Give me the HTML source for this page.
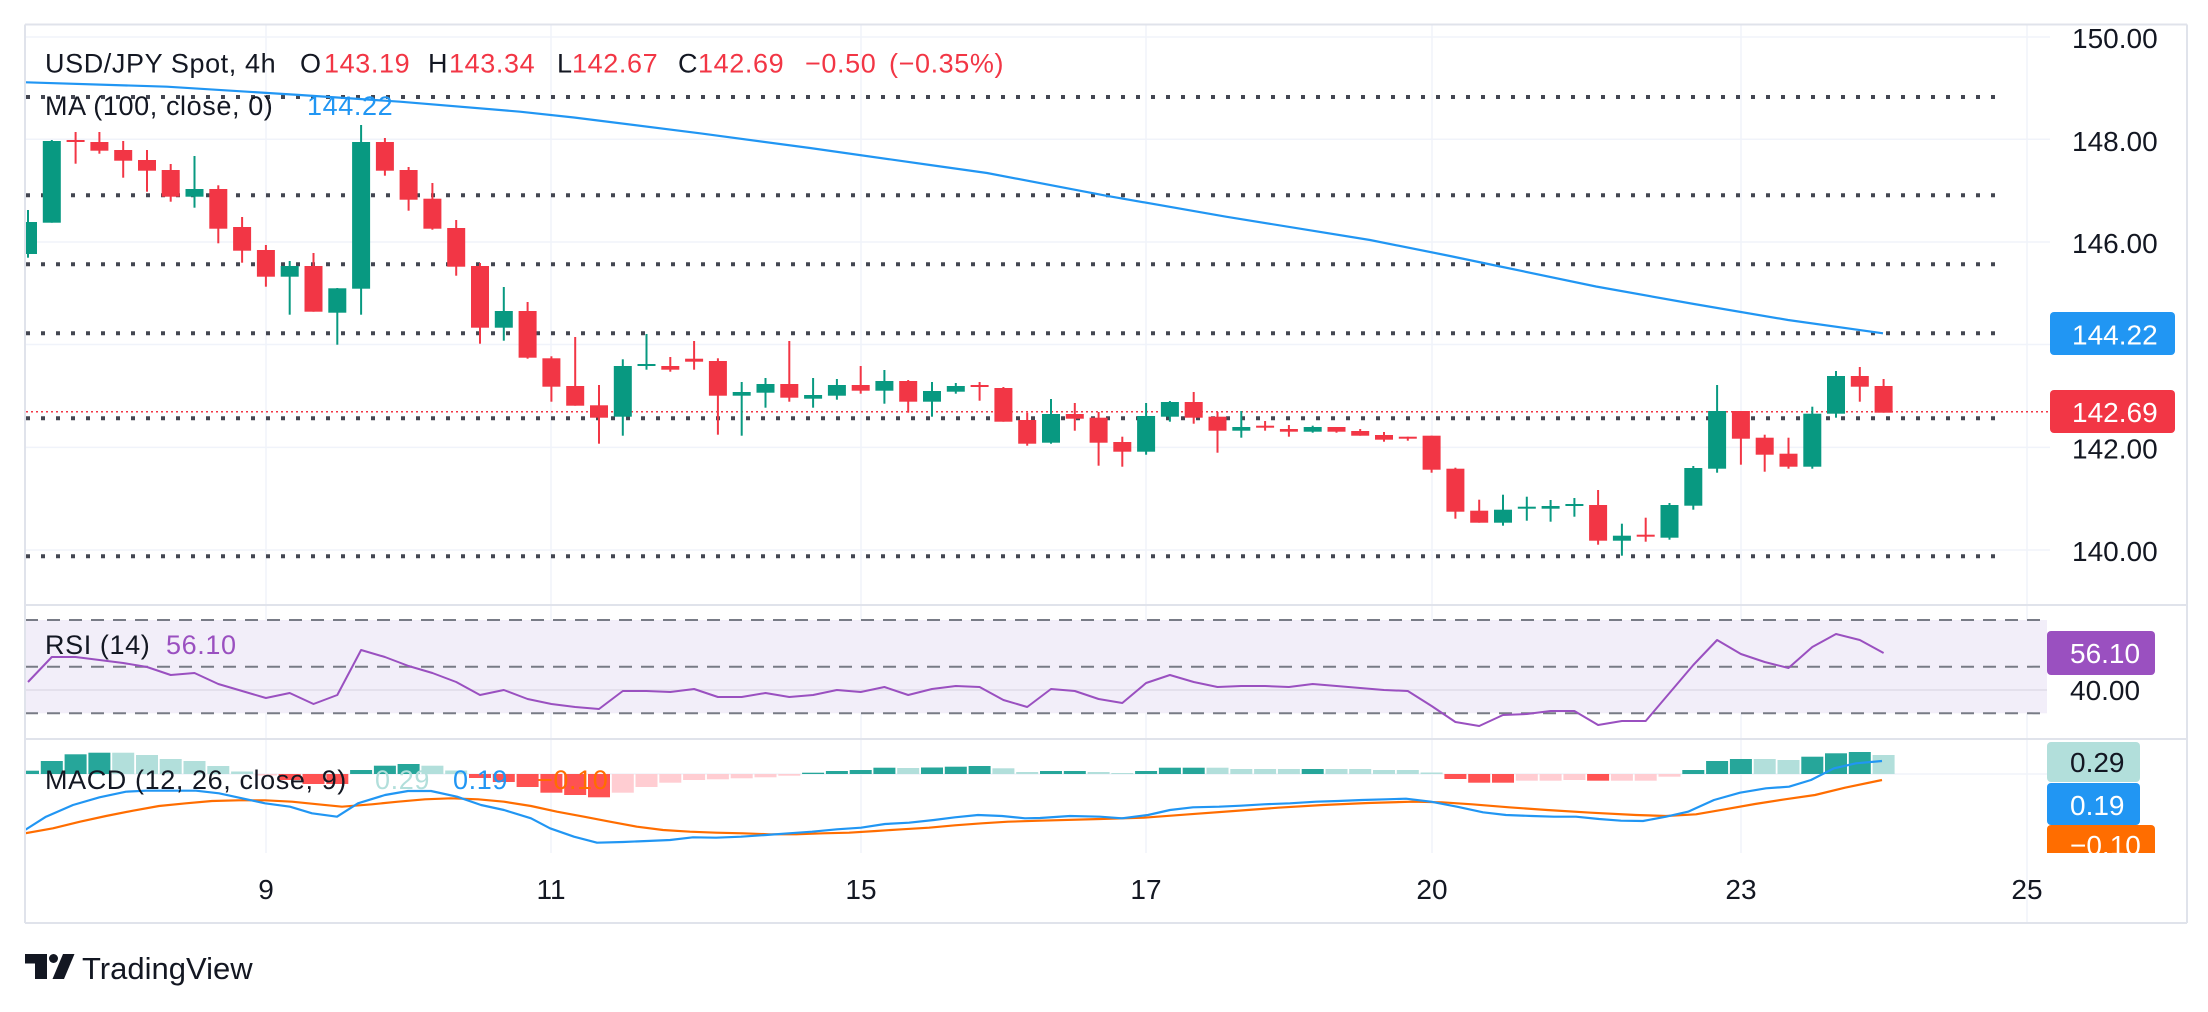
<!DOCTYPE html>
<html><head><meta charset="utf-8"><style>
html,body{margin:0;padding:0;background:#fff;}
svg{display:block;}
text{font-family:"Liberation Sans",sans-serif;}
</style></head><body>
<svg width="2208" height="1012" viewBox="0 0 2208 1012" xmlns="http://www.w3.org/2000/svg">
<defs>
<clipPath id="cp"><rect x="26" y="25" width="2022" height="580"/></clipPath>
<clipPath id="cr"><rect x="26" y="606" width="2022" height="133"/></clipPath>
<clipPath id="cm"><rect x="26" y="740" width="2022" height="113"/></clipPath>
<clipPath id="ca"><rect x="2040" y="740" width="146" height="113"/></clipPath>
</defs>
<rect width="2208" height="1012" fill="#fff"/>
<g stroke="#f0f3fa" stroke-width="1.5">
<line x1="266" y1="25" x2="266" y2="853"/><line x1="551" y1="25" x2="551" y2="853"/><line x1="861" y1="25" x2="861" y2="853"/><line x1="1146" y1="25" x2="1146" y2="853"/><line x1="1432" y1="25" x2="1432" y2="853"/><line x1="1741" y1="25" x2="1741" y2="853"/><line x1="2027" y1="25" x2="2027" y2="923"/>
<line x1="25" y1="37" x2="2050" y2="37"/><line x1="25" y1="139.3" x2="2050" y2="139.3"/><line x1="25" y1="242" x2="2050" y2="242"/><line x1="25" y1="344.5" x2="2050" y2="344.5"/><line x1="25" y1="447.4" x2="2050" y2="447.4"/><line x1="25" y1="550" x2="2050" y2="550"/>
<line x1="25" y1="774" x2="2047" y2="774"/>
</g>
<g stroke="#434651" stroke-width="4" stroke-dasharray="4 11">
<line x1="26" y1="97" x2="1998" y2="97"/><line x1="26" y1="195.3" x2="1998" y2="195.3"/><line x1="26" y1="264.3" x2="1998" y2="264.3"/><line x1="26" y1="333.3" x2="1998" y2="333.3"/><line x1="26" y1="418.3" x2="1998" y2="418.3"/><line x1="26" y1="556.3" x2="1998" y2="556.3"/>
</g>
<line x1="26" y1="411.8" x2="2048" y2="411.8" stroke="#f23645" stroke-width="1.5" stroke-dasharray="2 3"/>
<g clip-path="url(#cp)">
<polyline fill="none" stroke="#2196f3" stroke-width="2.2" points="25,82.3 167,86.7 300,95 400,101.7 520,111.7 574,117.5 700,133.3 810,148 930,165 987,173 1106,195.7 1226,216.7 1370,240 1450,256 1493,265 1596,286.5 1694,304 1788,320 1883,333.3"/>
<g fill="#089981">
<rect x="27" y="210" width="2" height="47.7"/><rect x="19" y="222" width="18" height="32"/>
<rect x="50.8" y="140" width="2" height="82.7"/><rect x="42.8" y="141" width="18" height="81.7"/>
<rect x="193.5" y="156" width="2" height="51.7"/><rect x="185.5" y="189" width="18" height="7.7"/>
<rect x="288.7" y="261" width="2" height="53.7"/><rect x="280.7" y="266" width="18" height="10.7"/>
<rect x="336.3" y="288" width="2" height="56.7"/><rect x="328.3" y="288.3" width="18" height="24.4"/>
<rect x="360.1" y="125" width="2" height="189.7"/><rect x="352.1" y="142" width="18" height="146.7"/>
<rect x="502.8" y="287" width="2" height="53.7"/><rect x="494.8" y="311" width="18" height="16.7"/>
<rect x="621.8" y="359.3" width="2" height="76.4"/><rect x="613.8" y="366" width="18" height="50.7"/>
<rect x="645.5" y="334" width="2" height="35.7"/><rect x="637.5" y="364" width="18" height="2"/>
<rect x="740.7" y="382" width="2" height="53.7"/><rect x="732.7" y="392" width="18" height="3.7"/>
<rect x="764.5" y="378" width="2" height="29.7"/><rect x="756.5" y="384" width="18" height="8.7"/>
<rect x="812.1" y="378" width="2" height="29.7"/><rect x="804.1" y="395" width="18" height="3.7"/>
<rect x="835.9" y="379" width="2" height="20.7"/><rect x="827.9" y="385" width="18" height="10.7"/>
<rect x="883.4" y="370" width="2" height="33.7"/><rect x="875.4" y="381" width="18" height="9.7"/>
<rect x="931" y="382" width="2" height="34.7"/><rect x="923" y="391" width="18" height="10.7"/>
<rect x="954.8" y="383" width="2" height="10.7"/><rect x="946.8" y="386" width="18" height="5.7"/>
<rect x="1050" y="399" width="2" height="44.7"/><rect x="1042" y="414" width="18" height="28.7"/>
<rect x="1145.1" y="403" width="2" height="51.7"/><rect x="1137.1" y="416" width="18" height="35.7"/>
<rect x="1168.9" y="401" width="2" height="20.7"/><rect x="1160.9" y="402" width="18" height="14.7"/>
<rect x="1240.3" y="411" width="2" height="26.7"/><rect x="1232.3" y="427" width="18" height="3.7"/>
<rect x="1311.7" y="425.7" width="2" height="7"/><rect x="1303.7" y="427" width="18" height="4.7"/>
<rect x="1502" y="494.7" width="2" height="31"/><rect x="1494" y="509.7" width="18" height="13"/>
<rect x="1525.8" y="496.7" width="2" height="24"/><rect x="1517.8" y="506.7" width="18" height="2"/>
<rect x="1549.6" y="500" width="2" height="21.7"/><rect x="1541.6" y="506" width="18" height="2.7"/>
<rect x="1573.4" y="498" width="2" height="18.7"/><rect x="1565.4" y="504" width="18" height="2"/>
<rect x="1620.9" y="523.7" width="2" height="32"/><rect x="1612.9" y="535.7" width="18" height="5"/>
<rect x="1668.5" y="503" width="2" height="36.7"/><rect x="1660.5" y="505" width="18" height="32.7"/>
<rect x="1692.3" y="466" width="2" height="43.7"/><rect x="1684.3" y="468" width="18" height="37.7"/>
<rect x="1716.1" y="385" width="2" height="87.7"/><rect x="1708.1" y="411" width="18" height="57.7"/>
<rect x="1811.3" y="406.7" width="2" height="62"/><rect x="1803.3" y="413.7" width="18" height="53"/>
<rect x="1835" y="371" width="2" height="46.7"/><rect x="1827" y="376" width="18" height="37.7"/>
</g>
<g fill="#f23645">
<rect x="74.6" y="132" width="2" height="31.7"/><rect x="66.6" y="140" width="18" height="2"/>
<rect x="98.4" y="132" width="2" height="21.7"/><rect x="90.4" y="142" width="18" height="8.7"/>
<rect x="122.2" y="141" width="2" height="36.7"/><rect x="114.2" y="150" width="18" height="10.7"/>
<rect x="146" y="150" width="2" height="41.7"/><rect x="138" y="160" width="18" height="10.7"/>
<rect x="169.7" y="164" width="2" height="37.7"/><rect x="161.7" y="170" width="18" height="26.7"/>
<rect x="217.3" y="185.3" width="2" height="58"/><rect x="209.3" y="189" width="18" height="39.7"/>
<rect x="241.1" y="217" width="2" height="45.7"/><rect x="233.1" y="227" width="18" height="23.7"/>
<rect x="264.9" y="245" width="2" height="41.7"/><rect x="256.9" y="250" width="18" height="26.7"/>
<rect x="312.5" y="253" width="2" height="58.7"/><rect x="304.5" y="266" width="18" height="45.7"/>
<rect x="383.9" y="138" width="2" height="37.7"/><rect x="375.9" y="142" width="18" height="28.7"/>
<rect x="407.6" y="167" width="2" height="43.7"/><rect x="399.6" y="170" width="18" height="29.7"/>
<rect x="431.4" y="183" width="2" height="46.7"/><rect x="423.4" y="198.7" width="18" height="30"/>
<rect x="455.2" y="220" width="2" height="55.7"/><rect x="447.2" y="228" width="18" height="38.7"/>
<rect x="479" y="263" width="2" height="80.7"/><rect x="471" y="266" width="18" height="61.7"/>
<rect x="526.6" y="302" width="2" height="56.7"/><rect x="518.6" y="311" width="18" height="46.7"/>
<rect x="550.4" y="356.3" width="2" height="45.4"/><rect x="542.4" y="358.3" width="18" height="28.4"/>
<rect x="574.2" y="337" width="2" height="68.7"/><rect x="566.2" y="386" width="18" height="19.7"/>
<rect x="598" y="385" width="2" height="58.7"/><rect x="590" y="405.3" width="18" height="12.4"/>
<rect x="669.3" y="357" width="2" height="14.7"/><rect x="661.3" y="366" width="18" height="3.7"/>
<rect x="693.1" y="341" width="2" height="28.7"/><rect x="685.1" y="358.7" width="18" height="3"/>
<rect x="716.9" y="358.3" width="2" height="76.4"/><rect x="708.9" y="361" width="18" height="34.7"/>
<rect x="788.3" y="341" width="2" height="60.7"/><rect x="780.3" y="384" width="18" height="13.7"/>
<rect x="859.7" y="366" width="2" height="27.7"/><rect x="851.7" y="385" width="18" height="5.7"/>
<rect x="907.2" y="380" width="2" height="32.7"/><rect x="899.2" y="381" width="18" height="20.7"/>
<rect x="978.6" y="382" width="2" height="18.7"/><rect x="970.6" y="385" width="18" height="2"/>
<rect x="1002.4" y="387" width="2" height="34.7"/><rect x="994.4" y="388" width="18" height="33.7"/>
<rect x="1026.2" y="412.7" width="2" height="33"/><rect x="1018.2" y="420" width="18" height="23.7"/>
<rect x="1073.8" y="403" width="2" height="27.7"/><rect x="1065.8" y="414" width="18" height="4.7"/>
<rect x="1097.6" y="412" width="2" height="53.7"/><rect x="1089.6" y="417.7" width="18" height="25"/>
<rect x="1121.3" y="436.7" width="2" height="30"/><rect x="1113.3" y="442" width="18" height="9.7"/>
<rect x="1192.7" y="392" width="2" height="31.7"/><rect x="1184.7" y="402" width="18" height="15.7"/>
<rect x="1216.5" y="412" width="2" height="40.7"/><rect x="1208.5" y="416.7" width="18" height="14"/>
<rect x="1264.1" y="421" width="2" height="9.7"/><rect x="1256.1" y="425.7" width="18" height="2"/>
<rect x="1287.9" y="425" width="2" height="11.7"/><rect x="1279.9" y="429" width="18" height="2.7"/>
<rect x="1335.5" y="427" width="2" height="5.7"/><rect x="1327.5" y="427" width="18" height="4.7"/>
<rect x="1359.2" y="429" width="2" height="6.7"/><rect x="1351.2" y="431" width="18" height="4.7"/>
<rect x="1383" y="432" width="2" height="9.7"/><rect x="1375" y="435" width="18" height="4.7"/>
<rect x="1406.8" y="436.7" width="2" height="4"/><rect x="1398.8" y="436.7" width="18" height="2"/>
<rect x="1430.6" y="435.7" width="2" height="37"/><rect x="1422.6" y="435.7" width="18" height="34"/>
<rect x="1454.4" y="467.7" width="2" height="51"/><rect x="1446.4" y="468.7" width="18" height="43"/>
<rect x="1478.2" y="499.7" width="2" height="23"/><rect x="1470.2" y="510.7" width="18" height="12"/>
<rect x="1597.1" y="490" width="2" height="54.7"/><rect x="1589.1" y="505" width="18" height="35.7"/>
<rect x="1644.7" y="517.7" width="2" height="24"/><rect x="1636.7" y="534.7" width="18" height="2"/>
<rect x="1739.9" y="411" width="2" height="53.7"/><rect x="1731.9" y="411" width="18" height="27.7"/>
<rect x="1763.7" y="434.7" width="2" height="37"/><rect x="1755.7" y="437.7" width="18" height="17"/>
<rect x="1787.5" y="437.7" width="2" height="31"/><rect x="1779.5" y="453.7" width="18" height="13"/>
<rect x="1858.8" y="367" width="2" height="34.7"/><rect x="1850.8" y="376" width="18" height="10.7"/>
<rect x="1882.6" y="379" width="2" height="33.7"/><rect x="1874.6" y="386" width="18" height="26.7"/>
</g>
</g>
<rect x="25" y="620" width="2022" height="93.3" fill="#f2eef9"/>
<line x1="25" y1="690" x2="2047" y2="690" stroke="#e4e0ec" stroke-width="2"/>
<g stroke="#787b86" stroke-width="2" stroke-dasharray="13 9">
<line x1="25" y1="620" x2="2047" y2="620"/><line x1="25" y1="666.7" x2="2047" y2="666.7"/><line x1="25" y1="713.3" x2="2047" y2="713.3"/>
</g>
<g clip-path="url(#cr)">
<polyline fill="none" stroke="#9a50c0" stroke-width="2" stroke-linejoin="round" points="28,682 51.8,657 75.6,657 99.4,660 123.2,663 147,667 170.7,675 194.5,673 218.3,684 242.1,691 265.9,698 289.7,693 313.5,704 337.3,695 361.1,650 384.9,657 408.6,666 432.4,673 456.2,682 480,695 503.8,690 527.6,699 551.4,704 575.2,707 599,709 622.8,691 646.5,691 670.3,692 694.1,689 717.9,697 741.7,697 765.5,693 789.3,697 813.1,695 836.9,690 860.7,692 884.4,687 908.2,695 932,689 955.8,686 979.6,687 1003.4,700 1027.2,707 1051,689 1074.8,691 1098.6,699 1122.3,703 1146.1,683 1169.9,675 1193.7,682 1217.5,687 1241.3,686 1265.1,686 1288.9,687 1312.7,684 1336.5,686 1360.2,688 1384,690 1407.8,691 1431.6,706 1455.4,722 1479.2,726 1503,715 1526.8,714 1550.6,711 1574.4,711 1598.1,725 1621.9,721 1645.7,721 1669.5,693 1693.3,665 1717.1,640 1740.9,654 1764.7,662 1788.5,668 1812.3,647 1836,634 1859.8,640 1883.6,653"/>
</g>
<g clip-path="url(#cm)">
<g fill="#26a69a">
<rect x="17" y="770.7" width="22" height="3.3"/><rect x="40.8" y="761" width="22" height="13"/><rect x="64.6" y="754.3" width="22" height="19.7"/><rect x="88.4" y="752.7" width="22" height="21.3"/>
<rect x="350.1" y="770" width="22" height="4"/><rect x="373.9" y="765.7" width="22" height="8.3"/><rect x="397.6" y="764" width="22" height="10"/>
<rect x="802.1" y="772.7" width="22" height="1.3"/><rect x="825.9" y="771" width="22" height="3"/><rect x="849.7" y="770" width="22" height="4"/><rect x="873.4" y="767.7" width="22" height="6.3"/>
<rect x="921" y="767.5" width="22" height="6.5"/><rect x="944.8" y="766.7" width="22" height="7.3"/><rect x="968.6" y="766" width="22" height="8"/>
<rect x="1040" y="771" width="22" height="3"/><rect x="1063.8" y="771" width="22" height="3"/><rect x="1135.1" y="771" width="22" height="3"/><rect x="1158.9" y="767.7" width="22" height="6.3"/><rect x="1182.7" y="767.7" width="22" height="6.3"/>
<rect x="1301.7" y="769" width="22" height="5"/>
<rect x="1682.3" y="770" width="22" height="4"/><rect x="1706.1" y="761" width="22" height="13"/><rect x="1729.9" y="759" width="22" height="15"/>
<rect x="1801.3" y="756.7" width="22" height="17.3"/><rect x="1825" y="753.3" width="22" height="20.7"/><rect x="1848.8" y="752" width="22" height="22"/>
</g>
<g fill="#b2dfdb">
<rect x="112.2" y="752.7" width="22" height="21.3"/><rect x="136" y="755" width="22" height="19"/><rect x="159.7" y="759" width="22" height="15"/><rect x="183.5" y="761" width="22" height="13"/><rect x="207.3" y="766" width="22" height="8"/><rect x="231.1" y="771.5" width="22" height="2.5"/>
<rect x="421.4" y="765.7" width="22" height="8.3"/><rect x="445.2" y="770.5" width="22" height="3.5"/>
<rect x="897.2" y="768" width="22" height="6"/><rect x="992.4" y="768.3" width="22" height="5.7"/><rect x="1016.2" y="772" width="22" height="2"/>
<rect x="1087.6" y="772" width="22" height="2"/><rect x="1111.3" y="773" width="22" height="1"/>
<rect x="1206.5" y="767.7" width="22" height="6.3"/><rect x="1230.3" y="769" width="22" height="5"/><rect x="1254.1" y="769" width="22" height="5"/><rect x="1277.9" y="769" width="22" height="5"/>
<rect x="1325.5" y="769" width="22" height="5"/><rect x="1349.2" y="769" width="22" height="5"/><rect x="1373" y="770" width="22" height="4"/><rect x="1396.8" y="770" width="22" height="4"/><rect x="1420.6" y="772.5" width="22" height="1.5"/>
<rect x="1753.7" y="759" width="22" height="15"/><rect x="1777.5" y="760" width="22" height="14"/><rect x="1872.6" y="755" width="22" height="19"/>
</g>
<g fill="#ff5252">
<rect x="278.7" y="774" width="22" height="6"/><rect x="302.5" y="774" width="22" height="10"/><rect x="326.3" y="774" width="22" height="10"/>
<rect x="469" y="774" width="22" height="4"/><rect x="492.8" y="774" width="22" height="8"/><rect x="516.6" y="774" width="22" height="13"/><rect x="540.4" y="774" width="22" height="18.7"/><rect x="564.2" y="774" width="22" height="21"/><rect x="588" y="774" width="22" height="23.3"/>
<rect x="1444.4" y="774" width="22" height="5"/><rect x="1468.2" y="774" width="22" height="8.7"/><rect x="1492" y="774" width="22" height="8.7"/><rect x="1587.1" y="774" width="22" height="6.7"/>
</g>
<g fill="#ffcdd2">
<rect x="254.9" y="774" width="22" height="1.5"/>
<rect x="611.8" y="774" width="22" height="18.7"/><rect x="635.5" y="774" width="22" height="13"/><rect x="659.3" y="774" width="22" height="8.7"/><rect x="683.1" y="774" width="22" height="6"/><rect x="706.9" y="774" width="22" height="5.3"/><rect x="730.7" y="774" width="22" height="4.3"/><rect x="754.5" y="774" width="22" height="3.3"/><rect x="778.3" y="774" width="22" height="1.7"/>
<rect x="1515.8" y="774" width="22" height="6.7"/><rect x="1539.6" y="774" width="22" height="6.7"/><rect x="1563.4" y="774" width="22" height="6"/><rect x="1610.9" y="774" width="22" height="6.7"/><rect x="1634.7" y="774" width="22" height="6.7"/><rect x="1658.5" y="774" width="22" height="2.7"/>
</g>
<polyline fill="none" stroke="#ff6d00" stroke-width="2.2" stroke-linejoin="round" points="25,833.3 53,828.3 80,821.7 106,816 133,810.7 159,806 186,803.3 212,801 239,800.3 265,800.3 292,801.7 318,804.3 342,806.7 372,804.3 398,801.7 425,799.3 451,798.3 478,799.3 504,801.7 531,806 557,811.7 584,816.7 610,821.7 637,826.7 663,830 690,831.7 716,832.7 743,833.3 769,834.3 796,834.3 823,833.3 849,832.7 876,831 902,829.3 929,827.7 955,825.3 982,823.3 1008,821.7 1040,820.7 1100,819 1144,817.7 1189,814.3 1234,811 1278,807.7 1323,805 1368,803 1413,801.7 1442,802.3 1472,804.3 1509,807.3 1547,810 1591,812.7 1636,815 1666,816 1696,814.3 1725,809.3 1755,804 1785,799.3 1815,795 1845,787.7 1882,780"/>
<polyline fill="none" stroke="#2196f3" stroke-width="2.2" stroke-linejoin="round" points="25,830 46,816.7 73,805 99.5,797.3 126,791.7 146,790.7 172,790.7 196,790.7 219,793.3 242,798.3 265,803.3 290,806.7 312,813.3 337,816.7 358,803.3 385,795 408,791 431,791 457,796.7 481,805 504,810 531,818.3 550,828.3 574,836.7 597,842.7 623,842 647,841 670,840 693,837.3 716,837.7 741,836.7 766,835 789,833.3 812,831.7 837,829.3 861,827.7 885,824 909,822.7 934,820 955,817.3 978,815 1002,816 1025,818.3 1040,818 1070,816 1100,816.7 1122,818.3 1148,815 1170,810 1193,807.3 1219,806.7 1241,805.7 1264,804.3 1290,803.3 1316,801.7 1338,801 1362,800 1386,799.3 1406,798.7 1431,801.7 1457,806.7 1483,812.3 1506,815 1532,816 1554,816.7 1576,816.7 1599,819 1621,820.7 1643,821 1666,816.7 1688,811.7 1714,800 1740,792.7 1766,788.3 1789,786.7 1811,780 1834,768.3 1856,763.3 1882,761"/>
</g>
<g stroke="#e0e3eb" stroke-width="2" fill="none">
<line x1="25" y1="24.5" x2="2187" y2="24.5"/>
<line x1="25" y1="24.5" x2="25" y2="923"/>
<line x1="2187" y1="24.5" x2="2187" y2="923"/>
<line x1="25" y1="923" x2="2187" y2="923"/>
<line x1="25" y1="605" x2="2187" y2="605"/>
<line x1="25" y1="739" x2="2187" y2="739"/>
</g>
<g font-size="27" style="letter-spacing:0.6px" fill="#131722">
<text x="45" y="72.5">USD/JPY Spot, 4h</text>
<text x="300" y="72.5">O</text><text x="324" y="72.5" fill="#f23645">143.19</text>
<text x="428" y="72.5">H</text><text x="449" y="72.5" fill="#f23645">143.34</text>
<text x="557" y="72.5">L</text><text x="572" y="72.5" fill="#f23645">142.67</text>
<text x="678" y="72.5">C</text><text x="698" y="72.5" fill="#f23645">142.69</text>
<text x="805" y="72.5" fill="#f23645">−0.50</text><text x="889" y="72.5" fill="#f23645">(−0.35%)</text>
<text x="45" y="115">MA (100, close, 0)</text><text x="307" y="115" fill="#2196f3">144.22</text>
<text x="45" y="654">RSI (14)</text><text x="166" y="654" fill="#9a50c0">56.10</text>
<text x="45" y="789">MACD (12, 26, close, 9)</text>
<text x="375" y="789" fill="#b2dfdb">0.29</text><text x="453" y="789" fill="#2196f3">0.19</text><text x="537" y="789" fill="#ff6d00">−0.10</text>
</g>
<g font-size="28" fill="#131722">
<text x="2072" y="48">150.00</text>
<text x="2072" y="151">148.00</text>
<text x="2072" y="253">146.00</text>
<text x="2072" y="458.5">142.00</text>
<text x="2072" y="561">140.00</text>
</g>
<rect x="2050" y="312" width="125" height="43" rx="4" fill="#2196f3"/>
<text x="2072" y="344.7" font-size="28" fill="#fff">144.22</text>
<rect x="2050" y="390" width="125" height="43" rx="4" fill="#f23645"/>
<text x="2072" y="422" font-size="28" fill="#fff">142.69</text>
<rect x="2047" y="631" width="108" height="44" rx="4" fill="#9a50c0"/>
<text x="2070" y="663" font-size="28" fill="#fff">56.10</text>
<text x="2070" y="700" font-size="28" fill="#131722">40.00</text>
<g clip-path="url(#ca)">
<rect x="2047" y="742" width="93" height="40" rx="4" fill="#b2dfdb"/>
<text x="2070" y="772" font-size="28" fill="#131722">0.29</text>
<rect x="2047" y="783" width="93" height="42" rx="4" fill="#2196f3"/>
<text x="2070" y="815" font-size="28" fill="#fff">0.19</text>
<rect x="2047" y="825" width="108" height="44" rx="4" fill="#ff6d00"/>
<text x="2070" y="855" font-size="28" fill="#fff">−0.10</text>
</g>
<g font-size="28" fill="#131722" text-anchor="middle">
<text x="266" y="899">9</text><text x="551" y="899">11</text><text x="861" y="899">15</text><text x="1146" y="899">17</text><text x="1432" y="899">20</text><text x="1741" y="899">23</text><text x="2027" y="899">25</text>
</g>
<g fill="#131722">
<rect x="25" y="954" width="22" height="9.5"/>
<rect x="35" y="954" width="12" height="25"/>
<circle cx="53.5" cy="958.5" r="4.5"/>
<polygon points="63,954 74.5,954 64,979 52.5,979"/>
<text x="82" y="979" font-size="31">TradingView</text>
</g>
</svg>
</body></html>
